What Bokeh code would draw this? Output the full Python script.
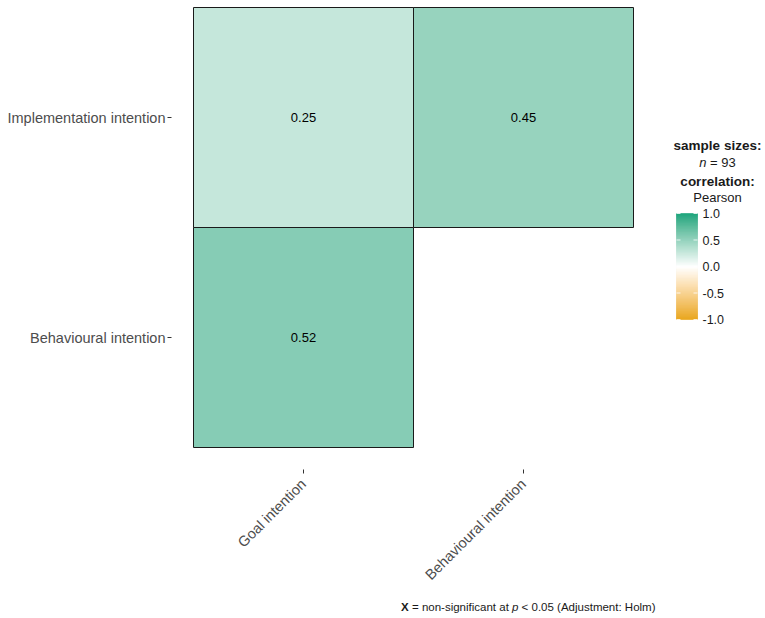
import numpy as np
from bokeh.plotting import figure
from bokeh.layouts import row, column
from bokeh.models import Range1d, FixedTicker, LinearColorMapper, ColumnDataSource
from bokeh.transform import transform
from bokeh.core.properties import value
from bokeh.embed import file_html
from bokeh.resources import INLINE

# ---- data -------------------------------------------------------------
x_vars = ["Goal intention", "Behavioural intention"]
y_vars = ["Behavioural intention", "Implementation intention"]
cell_x = ["Goal intention", "Behavioural intention", "Goal intention"]
cell_y = ["Implementation intention", "Implementation intention", "Behavioural intention"]
r_values = [0.25, 0.45, 0.52]
n_obs = 93
legend_ticks = [1.0, 0.5, 0.0, -0.5, -1.0]
legend_tick_labels = ["1.0", "0.5", "0.0", "-0.5", "-1.0"]
low_color, mid_color, high_color = "#E69F00", "#FFFFFF", "#009E73"

FONT = "Liberation Sans"
AXIS_TEXT = "#4D4D4D"


# ---- diverging palette (blend of CIE Lab and sRGB interpolation) --------
def _hex_to_rgb(h):
    h = h.lstrip("#")
    return np.array([int(h[i:i + 2], 16) for i in (0, 2, 4)], dtype=float) / 255.0


def _rgb_to_lab(rgb):
    lin = np.where(rgb <= 0.04045, rgb / 12.92, ((rgb + 0.055) / 1.055) ** 2.4)
    m = np.array([[0.4124, 0.3576, 0.1805],
                  [0.2126, 0.7152, 0.0722],
                  [0.0193, 0.1192, 0.9505]])
    xyz = m @ lin / np.array([0.95047, 1.0, 1.08883])
    f = np.where(xyz > 0.008856, np.cbrt(xyz), 7.787 * xyz + 16 / 116)
    return np.array([116 * f[1] - 16, 500 * (f[0] - f[1]), 200 * (f[1] - f[2])])


def _lab_to_rgb(lab):
    fy = (lab[0] + 16) / 116
    fx = fy + lab[1] / 500
    fz = fy - lab[2] / 200
    f = np.array([fx, fy, fz])
    xyz = np.where(f ** 3 > 0.008856, f ** 3, (f - 16 / 116) / 7.787)
    xyz = xyz * np.array([0.95047, 1.0, 1.08883])
    m = np.array([[3.2406, -1.5372, -0.4986],
                  [-0.9689, 1.8758, 0.0415],
                  [0.0557, -0.2040, 1.0570]])
    lin = np.clip(m @ xyz, 0, 1)
    return np.where(lin <= 0.0031308, 12.92 * lin, 1.055 * lin ** (1 / 2.4) - 0.055)


def _to_hex(rgb):
    r, g, b = (np.clip(np.round(rgb * 255), 0, 255)).astype(int)
    return "#%02x%02x%02x" % (r, g, b)


rgb_low, rgb_mid, rgb_high = (_hex_to_rgb(c) for c in (low_color, mid_color, high_color))
lab_low, lab_mid, lab_high = (_rgb_to_lab(c) for c in (rgb_low, rgb_mid, rgb_high))
palette = []
for v in np.linspace(-1, 1, 257):
    t = abs(v)
    lab_end, rgb_end = (lab_high, rgb_high) if v >= 0 else (lab_low, rgb_low)
    c_lab = _lab_to_rgb(lab_mid + t * (lab_end - lab_mid))
    c_rgb = rgb_mid + t * (rgb_end - rgb_mid)
    palette.append(_to_hex(0.5 * (c_lab + c_rgb)))
mapper = LinearColorMapper(palette=palette, low=-1, high=1)

# ---- correlation matrix -------------------------------------------------
src = ColumnDataSource(dict(
    x=[x_vars.index(c) + 0.5 for c in cell_x],
    y=[y_vars.index(c) + 0.5 for c in cell_y],
    r=r_values,
    label=["%.2f" % v for v in r_values],
))

CELL_PX = 220
FRAME_H = 469
BOTTOM = 126
p = figure(width=655, height=FRAME_H + BOTTOM,
           x_range=Range1d(-0.1, len(x_vars) + 0.1),
           y_range=Range1d(-0.1, -0.1 + FRAME_H / CELL_PX),
           output_backend="svg", toolbar_location=None,
           min_border_left=171, min_border_right=0,
           min_border_top=0, min_border_bottom=BOTTOM)
p.background_fill_color = "white"
p.border_fill_color = "white"
p.outline_line_color = None
p.grid.visible = False

p.rect("x", "y", width=1, height=1, source=src,
       fill_color=transform("r", mapper), line_color="#1A1A1A", line_width=1)
p.text("x", "y", text="label", source=src, text_align="center",
       text_baseline="middle", text_color="black",
       text_font=value(FONT), text_font_size="13px")

p.xaxis.ticker = FixedTicker(ticks=[i + 0.5 for i in range(len(x_vars))])
p.xaxis.major_label_overrides = {i + 0.5: v for i, v in enumerate(x_vars)}
p.xaxis.major_label_orientation = np.pi / 4
p.yaxis.ticker = FixedTicker(ticks=[i + 0.5 for i in range(len(y_vars))])
p.yaxis.major_label_overrides = {i + 0.5: v for i, v in enumerate(y_vars)}
for ax in (p.xaxis, p.yaxis):
    ax.axis_line_color = None
    ax.minor_tick_line_color = None
    ax.major_tick_in = 0
    ax.major_tick_out = 4
    ax.major_tick_line_color = "#333333"
    ax.major_label_text_font = FONT
    ax.major_label_text_font_size = "14.5px"
    ax.major_label_text_color = AXIS_TEXT
p.yaxis.major_label_standoff = 2
p.xaxis.major_label_standoff = 8

# ---- legend (sample size + colour bar) ---------------------------------
# same frame height as the matrix so the row lines them up; y counts pixels from the top
leg = figure(width=110, height=FRAME_H + BOTTOM, x_range=Range1d(655, 765),
             y_range=Range1d(FRAME_H, 0),
             output_backend="svg", toolbar_location=None,
             x_axis_location=None, y_axis_location=None,
             min_border_left=0, min_border_right=0, min_border_top=0,
             min_border_bottom=BOTTOM)
leg.outline_line_color = None
leg.grid.visible = False

CX = 717
LEG_SIZE = 13
txt = dict(text_font=value(FONT), text_baseline="middle", text_color="#1A1A1A")
leg.text([CX], [145], text=["sample sizes:"], text_align="center",
         text_font_style="bold", text_font_size="13.5px", **txt)
# "n = 93" with an italic n
w_n = 0.556 * LEG_SIZE
w_sp = 0.278 * LEG_SIZE
w_rest = (0.584 + 0.278 + 0.556 * len(str(n_obs))) * LEG_SIZE
x0 = CX - (w_n + w_sp + w_rest) / 2
leg.text([x0], [162], text=["n"], text_align="left", text_font_style="italic",
         text_font_size="%dpx" % LEG_SIZE, **txt)
leg.text([x0 + w_n + w_sp], [162], text=["= %d" % n_obs], text_align="left",
         text_font_size="%dpx" % LEG_SIZE, **txt)
leg.text([CX], [181], text=["correlation:"], text_align="center",
         text_font_style="bold", text_font_size="13.5px", **txt)
leg.text([CX], [197], text=["Pearson"], text_align="center",
         text_font_size="%dpx" % LEG_SIZE, **txt)

# colour bar: value v drawn at BAR_MID - v * BAR_HALF
BAR_MID, BAR_HALF = 266, 53
BAR_L, BAR_R = 676, 697
edges = np.linspace(-1, 1, 107)
bar = ColumnDataSource(dict(
    top=BAR_MID - edges[1:] * BAR_HALF,
    bottom=BAR_MID - edges[:-1] * BAR_HALF,
    v=(edges[1:] + edges[:-1]) / 2 * 0.96,
))
leg.quad(left=BAR_L, right=BAR_R, top="top", bottom="bottom", source=bar,
         fill_color=transform("v", mapper), line_color=transform("v", mapper),
         line_width=0.6)
tick_y = [BAR_MID - t * BAR_HALF for t in legend_ticks]
leg.segment(x0=[BAR_L] * 5, x1=[BAR_L + 4] * 5, y0=tick_y, y1=tick_y,
            line_color="white", line_width=1, line_alpha=0.8)
leg.segment(x0=[BAR_R - 4] * 5, x1=[BAR_R] * 5, y0=tick_y, y1=tick_y,
            line_color="white", line_width=1, line_alpha=0.8)
leg.text([BAR_R + 5] * 5, tick_y, text=legend_tick_labels, text_align="left",
         text_font_size="12.5px", **txt)

# ---- caption -------------------------------------------------------------
foot = figure(width=765, height=23, x_range=Range1d(0, 765), y_range=Range1d(23, 0),
              output_backend="svg", toolbar_location=None,
              x_axis_location=None, y_axis_location=None, min_border=0)
foot.outline_line_color = None
foot.grid.visible = False

ARIAL = {" ": 278, "=": 584, "<": 584, "-": 333, "(": 333, ")": 333, ".": 278,
         ":": 278, "0": 556, "5": 556, "A": 667, "H": 722, "X": 667,
         "a": 556, "c": 500, "d": 556, "e": 556, "f": 278, "g": 556, "i": 222,
         "j": 222, "l": 222, "m": 833, "n": 556, "o": 556, "p": 556, "s": 500,
         "t": 278, "u": 556}


def text_width(s, size):
    return sum(ARIAL.get(ch, 556) for ch in s) / 1000 * size


CAP_SIZE = 11.5
pieces = [("X", "bold"), (" = non-significant at ", "normal"), ("p", "italic"),
          (" < 0.05 (Adjustment: Holm)", "normal")]
total = sum(text_width(s, CAP_SIZE) for s, _ in pieces)
xpos = 655 - total
for s, style in pieces:
    # leading blanks are dropped by the renderer, so move the anchor instead
    lead = len(s) - len(s.lstrip(" "))
    foot.text([xpos + text_width(" " * lead, CAP_SIZE)], [11], text=[s.strip(" ")],
              text_align="left", text_font_style=style,
              text_font_size="%spx" % CAP_SIZE, **txt)
    xpos += text_width(s, CAP_SIZE)

layout = column(row(p, leg, spacing=0), foot, spacing=0)
open("out.html", "w").write(file_html(layout, INLINE))
